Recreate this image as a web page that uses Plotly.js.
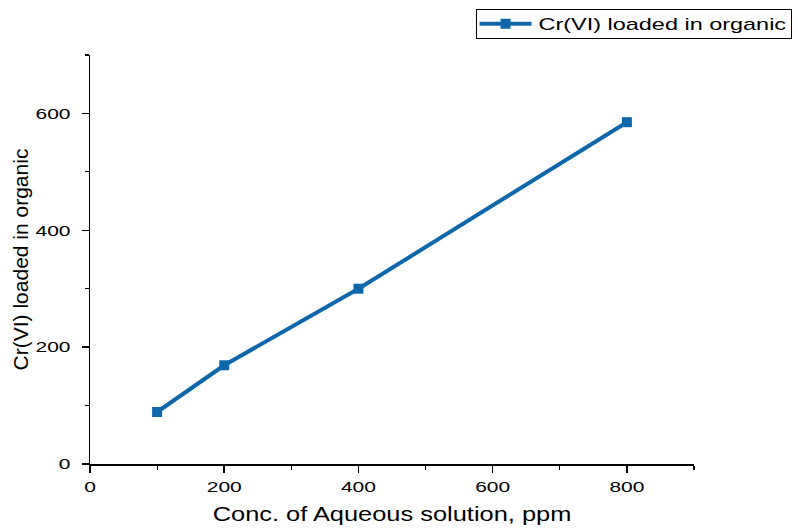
<!DOCTYPE html>
<html>
<head>
<meta charset="utf-8">
<script src="https://cdn.plot.ly/plotly-3.0.1.min.js"></script>
<style>html,body{margin:0;padding:0;background:#fff;}#chart{width:798px;height:529px;}</style>
</head>
<body>
<div id="chart"></div>
<script>
// Aqueous concentration (ppm) vs Cr(VI) loaded into the organic phase
const concPpm = [100, 200, 400, 800];
const crLoaded = [89, 169, 300, 585];
const seriesName = "Cr(VI) loaded in organic";
const xTitle = "Conc. of Aqueous solution, ppm";
const yTitle = "Cr(VI) loaded in organic";
const xTicks = [0, 200, 400, 600, 800];
const yTicks = [0, 200, 400, 600];

const blue = "#0F67AB";
const font = "Liberation Sans, Arial, sans-serif";

const trace = {
  x: concPpm,
  y: crLoaded,
  name: seriesName,
  type: "scatter",
  mode: "lines+markers",
  line: {color: blue, width: 4},
  marker: {symbol: "square", size: 10, color: blue},
  showlegend: true
};

const axisCommon = {
  showgrid: false,
  zeroline: false,
  showline: true,
  linecolor: "#000",
  linewidth: 1.5,
  ticks: "outside",
  ticklen: 7,
  tickwidth: 1.5,
  tickcolor: "#000",
  tickfont: {family: font, size: 15, color: "#000"}
};

const layout = {
  width: 798,
  height: 529,
  margin: {l: 90, r: 104, t: 55, b: 65, autoexpand: false},
  paper_bgcolor: "#fff",
  plot_bgcolor: "#fff",
  font: {family: font, color: "#000"},
  xaxis: Object.assign({}, axisCommon, {
    range: [0, 900],
    tickvals: xTicks,
    ticklabelstandoff: 2,
    minor: {ticks: "outside", ticklen: 4, tickwidth: 1.2, tickcolor: "#000", tickvals: [100, 300, 500, 700, 900]},
    title: {text: xTitle, font: {family: font, size: 21, color: "#000"}, standoff: 12}
  }),
  yaxis: Object.assign({}, axisCommon, {
    range: [0, 700],
    tickvals: yTicks,
    ticklabelstandoff: 8,
    minor: {ticks: "outside", ticklen: 4, tickwidth: 1.2, tickcolor: "#000", tickvals: [100, 300, 500, 700]},
    title: {text: yTitle, font: {family: font, size: 21, color: "#000"}, standoff: 11}
  }),
  legend: {
    xref: "container", yref: "container",
    x: 0.6, xanchor: "left",
    y: 0.985, yanchor: "top",
    bordercolor: "#000",
    borderwidth: 1,
    bgcolor: "#fff",
    font: {family: font, size: 17, color: "#000"}
  }
};

// Widen a text element horizontally about its anchor point.
function widenText(el, s) {
  const bb = el.getBBox();
  const t = el.getAttribute("transform") || "";
  const anchor = el.getAttribute("text-anchor") || "start";
  let ax = bb.x;
  if (anchor === "middle") ax = bb.x + bb.width / 2;
  if (anchor === "end") ax = bb.x + bb.width;
  el.setAttribute("transform", `${t} translate(${ax},0) scale(${s},1) translate(${-ax},0)`);
}

// Legend entry with a longer line sample, pinned to the top-right corner.
function styleLegend(gd) {
  const leg = gd.querySelector("g.legend");
  if (!leg) return;
  const s = 1.38, textX = 62, boxH = 28.5, right = 791, top = 9;
  leg.querySelectorAll("[clip-path]").forEach(el => el.removeAttribute("clip-path"));
  const line = leg.querySelector(".legendlines path");
  if (line) line.setAttribute("d", "M3,0h52");
  const pt = leg.querySelector(".legendpoints path");
  if (pt) pt.setAttribute("transform", "translate(29,0)");
  const txt = leg.querySelector("text.legendtext");
  txt.setAttribute("x", textX);
  const tw = txt.getBBox().width;
  widenText(txt, s);
  const boxW = textX + tw * s + 5;
  const bg = leg.querySelector("rect.bg");
  bg.setAttribute("width", boxW);
  bg.setAttribute("height", boxH);
  const item = leg.querySelector("g.traces");
  if (item) item.setAttribute("transform", `translate(1,${boxH / 2 + 0.5})`);
  const toggle = leg.querySelector("rect.legendtoggle");
  if (toggle) toggle.setAttribute("width", boxW);
  leg.setAttribute("transform", `translate(${right - boxW},${top})`);
}

Plotly.newPlot("chart", [trace], layout, {displayModeBar: false, staticPlot: true}).then(gd => {
  gd.querySelectorAll(".xtick text, .ytick text").forEach(el => widenText(el, 1.4));
  gd.querySelectorAll(".g-xtitle text").forEach(el => widenText(el, 1.21));
  styleLegend(gd);
});
</script>
</body>
</html>
